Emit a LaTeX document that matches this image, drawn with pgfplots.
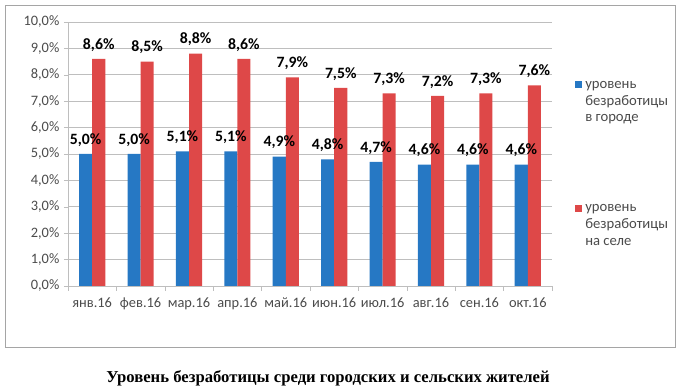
\documentclass[border=0pt]{standalone}
\usepackage{pgfplots}
\pgfplotsset{compat=1.18}
\usepackage{fontspec}
\setmainfont{Carlito}
\newfontfamily\titlefont{Liberation Serif}
\definecolor{cblue}{RGB}{38,120,196}
\definecolor{cred}{RGB}{222,72,72}
\definecolor{cgrid}{RGB}{190,190,190}
\definecolor{ctext}{RGB}{75,75,75}
\begin{document}
\begin{tikzpicture}
\path (-51pt,-78.75pt) rectangle (459pt,214.5pt);
\draw[color={rgb,255:red,165;green,165;blue,165}, line width=0.7pt] (-47.25pt,-45.75pt) rectangle (455.25pt,210.75pt);
\begin{axis}[
  at={(0pt,0pt)}, anchor=south west,
  scale only axis, width=363pt, height=198pt,
  ybar=0pt, bar width=0.27,
  xmin=-0.5, xmax=9.5, ymin=0, ymax=10,
  axis lines=left, axis line style={draw=cgrid, -},
  xtick={0,...,9},
  xticklabels={янв.16,фев.16,мар.16,апр.16,май.16,июн.16,июл.16,авг.16,сен.16,окт.16},
  major x tick style={draw=none},
  minor xtick={-0.5,0.5,...,9.5},
  minor x tick style={draw=cgrid},
  minor tick length=3.5pt,
  ytick={0,1,...,10},
  major y tick style={draw=cgrid},
  major tick length=3pt,
  tick align=outside,
  ymajorgrids, grid style={draw=cgrid, line width=0.6pt},
  yticklabel={\pgfmathprintnumber[fixed,fixed zerofill,precision=1,use comma]{\tick}\%},
  tick label style={font=\fontsize{10.8}{12}\selectfont, text=ctext},
  /pgf/number format/assume math mode=true,
  xticklabel style={yshift=-2pt},
  nodes near coords={\pgfmathprintnumber[fixed,fixed zerofill,precision=1,use comma,assume math mode=true]{\pgfplotspointmeta}\%},
  every node near coord/.append style={font=\bfseries\fontsize{11.8}{13}\selectfont, text=black, inner sep=0pt, yshift=5.5pt},
  clip=false,
]
\addplot[fill=cblue, draw=none] coordinates {(0,5.0) (1,5.0) (2,5.1) (3,5.1) (4,4.9) (5,4.8) (6,4.7) (7,4.6) (8,4.6) (9,4.6)};
\addplot[fill=cred, draw=none] coordinates {(0,8.6) (1,8.5) (2,8.8) (3,8.6) (4,7.9) (5,7.5) (6,7.3) (7,7.2) (8,7.3) (9,7.6)};
\end{axis}
\fill[cblue] (380.25pt,148.5pt) rectangle (385.5pt,153.75pt);
\fill[cred] (380.25pt,55.5pt) rectangle (385.5pt,60.75pt);
\begin{scope}[every node/.style={anchor=base west, inner sep=0pt, text=ctext, font=\fontsize{11}{12}\selectfont}]
\node at (387.75pt,148.1pt) {уровень};
\node at (387.75pt,135.4pt) {безработицы};
\node at (387.75pt,123.4pt) {в городе};
\node at (387.75pt,55.9pt) {уровень};
\node at (387.75pt,43.1pt) {безработицы};
\node at (387.75pt,30.4pt) {на селе};
\end{scope}
\node[anchor=base, inner sep=0pt, font=\titlefont\bfseries\fontsize{12.5}{14}\selectfont] at (195pt,-72.75pt) {Уровень безработицы среди городских и сельских жителей};
\end{tikzpicture}
\end{document}
